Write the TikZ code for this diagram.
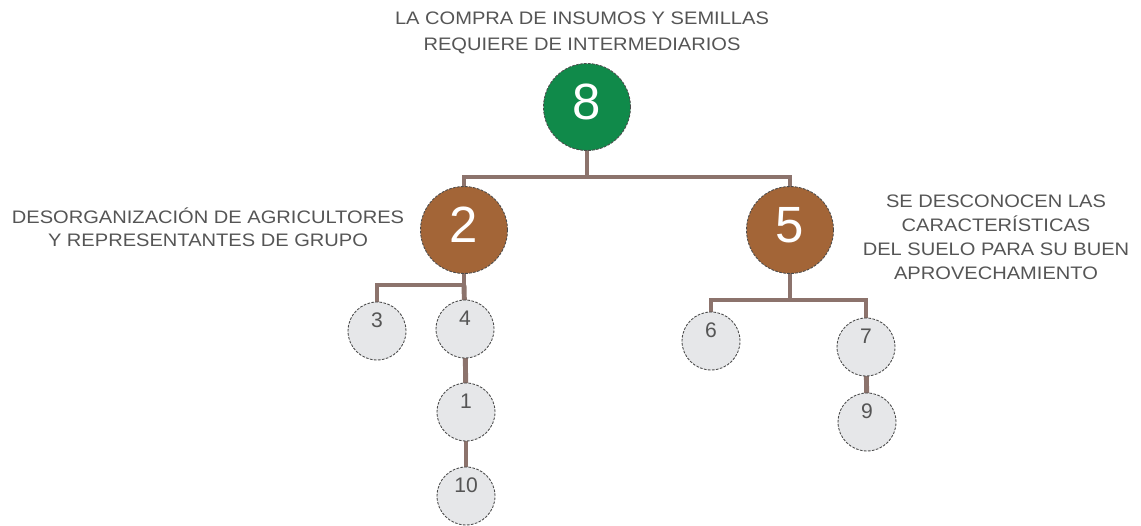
\documentclass[tikz,border=0pt]{standalone}
\usepackage{fontspec}
\setmainfont{Liberation Sans}
\newfontfamily\lblfont[FakeStretch=1.11]{Liberation Sans}
\usetikzlibrary{backgrounds}
\definecolor{greenc}{RGB}{16,138,74}
\definecolor{brownc}{RGB}{163,101,55}
\definecolor{linec}{RGB}{140,115,108}
\definecolor{fillc}{RGB}{230,231,233}
\definecolor{txtc}{RGB}{85,85,85}
\tikzset{
  bignode/.style={circle, draw=black!70, line width=0.5pt, dash pattern=on 1.5pt off 0.8pt, minimum size=1.74cm, inner sep=0pt},
  smallnode/.style={circle, draw=black!70, line width=0.5pt, dash pattern=on 1.5pt off 0.8pt, fill=fillc, minimum size=1.16cm, inner sep=0pt},
  bigdigit/.style={text=white, font=\fontsize{29}{29}\selectfont, yshift=0.1cm},
  smalldigit/.style={text=txtc, font=\fontsize{12}{12}\selectfont, yshift=0.22cm},
  conn/.style={draw=linec, line width=2.8pt},
  lbl/.style={text=txtc, align=center, inner sep=0pt}
}
\begin{document}
\begin{tikzpicture}[x=0.02cm, y=-0.02cm]
\useasboundingbox (0,0) rectangle (1141,525);
% nodes
\node[bignode, fill=greenc, label={[bigdigit]center:8}] (n8) at (587,107) {};
\node[bignode, fill=brownc, label={[bigdigit]center:2}] (n2) at (464,230) {};
\node[bignode, fill=brownc, label={[bigdigit]center:5}] (n5) at (790,230) {};
\node[smallnode, label={[smalldigit]center:3}] (n3) at (377,331) {};
\node[smallnode, label={[smalldigit]center:4}] (n4) at (465,329) {};
\node[smallnode, label={[smalldigit]center:1}] (n1) at (466,412) {};
\node[smallnode, label={[smalldigit]center:10}] (n10) at (466,496) {};
\node[smallnode, label={[smalldigit]center:6}] (n6) at (711,341) {};
\node[smallnode, label={[smalldigit]center:7}] (n7) at (866,347) {};
\node[smallnode, label={[smalldigit]center:9}] (n9) at (867,422) {};
% labels
\node[lbl, font=\lblfont\fontsize{10.3}{14.5}\selectfont] (t8) at (582,33) {LA COMPRA DE INSUMOS Y SEMILLAS\\REQUIERE DE INTERMEDIARIOS};
\node[lbl, font=\lblfont\fontsize{10.3}{13}\selectfont] (t2) at (208,227) {DESORGANIZACIÓN DE AGRICULTORES\\Y REPRESENTANTES DE GRUPO};
\node[lbl, font=\lblfont\fontsize{10.3}{13.7}\selectfont] (t5) at (996,237) {SE DESCONOCEN LAS\\CARACTERÍSTICAS\\DEL SUELO PARA SU BUEN\\APROVECHAMIENTO};
% connectors
\coordinate (b8) at (587,177);
\coordinate (b2) at (464,285);
\coordinate (b5) at (790,300);
\begin{scope}[on background layer]
\draw[conn] (n8.center) -- (b8);
\draw[conn] (b8) -| (n2.center);
\draw[conn] (b8) -| (n5.center);
\draw[conn] (n2.center) -- (b2) -| (n3.center);
\draw[conn] (b2) -- (n4.center);
\draw[conn] (n4.center) -- (n1.center);
\draw[conn] (n1.center) -- (n10.center);
\draw[conn] (n5.center) -- (b5) -| (n6.center);
\draw[conn] (b5) -| (n7.center);
\draw[conn] (n7.center) -- (n9.center);
\end{scope}
\end{tikzpicture}
\end{document}
